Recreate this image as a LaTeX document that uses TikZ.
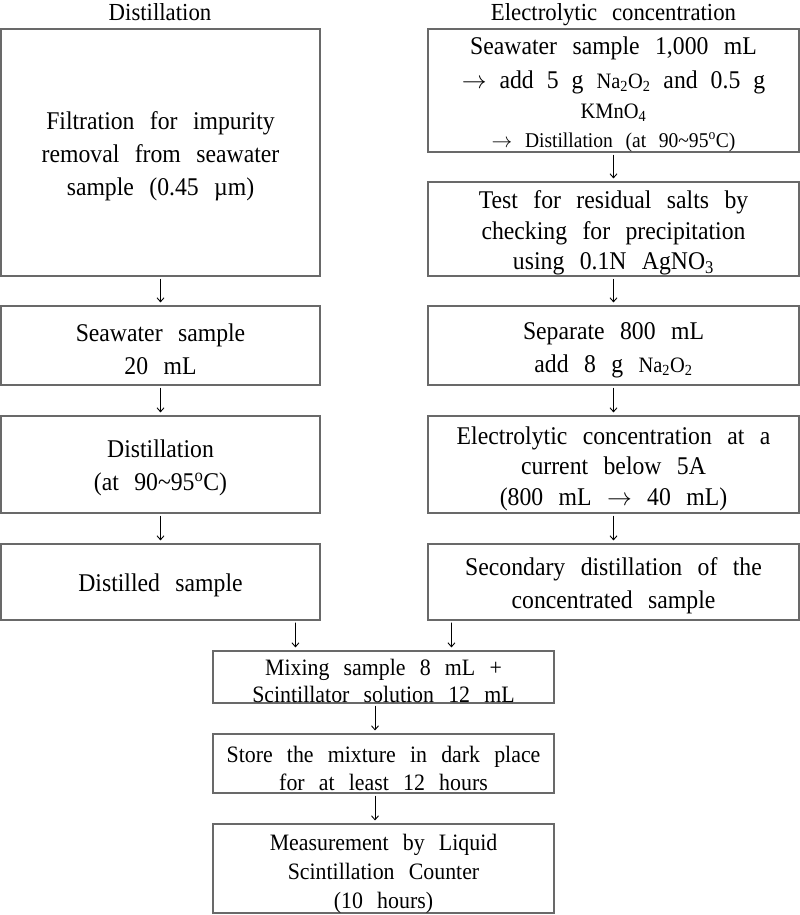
\documentclass[tikz,border=0pt]{standalone}
\usepackage{fontspec}
\setmainfont{Liberation Serif}[WordSpace=2.6, FakeStretch=0.93]
\usetikzlibrary{arrows.meta}
\definecolor{boxgray}{RGB}{105,105,105}
\newcommand\fA{\fontsize{25.5bp}{33bp}\selectfont}
\newcommand\fT{\fontsize{24.5bp}{30bp}\selectfont}
\newcommand\fB{\fontsize{25.5bp}{30.5bp}\selectfont}
\newcommand\fC{\fontsize{23.5bp}{27.5bp}\selectfont}
\newcommand\fM{\fontsize{23.5bp}{29bp}\selectfont}
\newcommand\fsm{\fontsize{22bp}{30.5bp}\selectfont}
\newcommand\fsn{\fontsize{21bp}{30.5bp}\selectfont}
\newcommand\degC{\textsuperscript{o}C}
\newcommand\rar{\ensuremath{\rightarrow}}
\begin{document}
\begin{tikzpicture}[x=1bp,y=-1bp,
  box/.style={draw=boxgray, line width=1.1bp, inner sep=0pt, anchor=center},
  lbox/.style={box, minimum width=319bp},
  rbox/.style={box, minimum width=371bp},
  bbox/.style={box, minimum width=341bp},
  txt/.style={align=center, inner sep=0pt, anchor=center},
  arr/.style={-{Straight Barb[length=4bp,width=7bp]}, line width=0.9bp, shorten <=2bp, shorten >=3bp}]
\useasboundingbox[fill=white] (0,0) rectangle (800,915);
% titles
\node[anchor=base, font=\fT] (T1) at (160,20) {Distillation};
\node[anchor=base, font=\fT] (T2) at (613.5,20) {Electrolytic concentration};
% left column
\node[lbox, minimum height=247bp] (L1) at (160.5,152.5) {};
\node[txt, font=\fA] (L1t) at ([yshift=-4bp]L1.center)
  {Filtration for impurity\\removal from seawater\\sample (0.45 µm)};
\node[lbox, minimum height=79bp] (L2) at (160.5,345.5) {};
\node[txt, font=\fA] (L2t) at ([yshift=-3.5bp]L2.center)
  {Seawater sample\\20 mL};
\node[lbox, minimum height=97bp] (L3) at (160.5,464.5) {};
\node[txt, font=\fA] (L3t) at ([yshift=-3.5bp]L3.center)
  {Distillation\\(at 90\textasciitilde95\degC)};
\node[lbox, minimum height=76bp] (L4) at (160.5,582) {};
\node[txt, font=\fA] (L4t) at ([yshift=-3bp]L4.center)
  {Distilled sample};
% right column
\node[rbox, minimum height=123bp] (R1) at (613.5,90.5) {};
\node[txt, font=\fB] (R1t) at ([yshift=-4bp]R1.center)
  {Seawater sample 1,000 mL\\[3bp]{\spaceskip=13bp\rar{} add 5 g {\fsm Na\textsubscript{2}O\textsubscript{2}} and 0.5 g}\\{\fsm KMnO\textsubscript{4}}\\[-2bp]{\fsn \rar{} Distillation (at 90\textasciitilde95\degC)}};
\node[rbox, minimum height=94bp] (R2) at (613.5,229) {};
\node[txt, font=\fB] (R2t) at ([yshift=-4bp]R2.center)
  {Test for residual salts by\\checking for precipitation\\using 0.1N AgNO\textsubscript{3}};
\node[rbox, minimum height=79bp] (R3) at (613.5,345.5) {};
\node[txt, font=\fA] (R3t) at ([yshift=-4.5bp]R3.center)
  {Separate 800 mL\\add 8 g {\fsm Na\textsubscript{2}O\textsubscript{2}}};
\node[rbox, minimum height=97bp] (R4) at (613.5,464.5) {};
\node[txt, font=\fB] (R4t) at ([yshift=-4bp]R4.center)
  {Electrolytic concentration at a\\current below 5A\\(800 mL \rar{} 40 mL)};
\node[rbox, minimum height=76bp] (R5) at (613.5,582) {};
\node[txt, font=\fA] (R5t) at ([yshift=-4bp]R5.center)
  {Secondary distillation of the\\concentrated sample};
% bottom column
\node[bbox, minimum height=52bp] (B1) at (383.5,677) {};
\node[txt, font=\fC] (B1t) at ([yshift=-4bp]B1.center)
  {Mixing sample 8 mL +\\Scintillator solution 12 mL};
\node[bbox, minimum height=59bp] (B2) at (383.5,763.5) {};
\node[txt, font=\fC] (B2t) at ([yshift=-5bp]B2.center)
  {Store the mixture in dark place\\for at least 12 hours};
\node[bbox, minimum height=89bp] (B3) at (383.5,868.5) {};
\node[txt, font=\fM] (B3t) at ([yshift=-5bp]B3.center)
  {Measurement by Liquid\\Scintillation Counter\\(10 hours)};
% connectors
\draw[arr] (L1) -- (L2);
\draw[arr] (L2) -- (L3);
\draw[arr] (L3) -- (L4);
\draw[arr] (R1) -- (R2);
\draw[arr] (R2) -- (R3);
\draw[arr] (R3) -- (R4);
\draw[arr] (R4) -- (R5);
\draw[arr] ([xshift=295bp]L4.south west) -- ([xshift=83bp]B1.north west);
\draw[arr] ([xshift=24bp]R5.south west) -- ([xshift=239bp]B1.north west);
\draw[arr] ([xshift=-8.5bp]B1.south) -- ([xshift=-8.5bp]B2.north);
\draw[arr] ([xshift=-8.5bp]B2.south) -- ([xshift=-8.5bp]B3.north);
\end{tikzpicture}
\end{document}
